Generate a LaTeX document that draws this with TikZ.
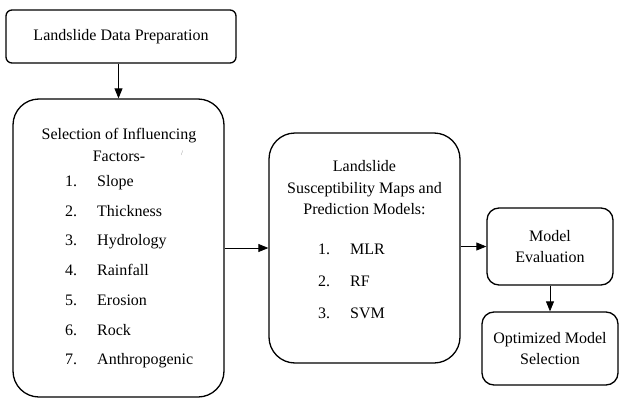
\documentclass[tikz,border=0pt]{standalone}
\usepackage{fontspec}
\setmainfont{Liberation Serif}
\usetikzlibrary{arrows.meta}

\begin{document}
\begin{tikzpicture}[x=1pt, y=-1pt, every node/.style={font=\fontsize{16}{21.5}\selectfont}, smallbox/.style={draw, line width=1.3pt, rounded corners=6pt, align=center}, bigbox/.style={draw, line width=1.3pt, rounded corners=26pt}, txt/.style={inner sep=0pt, align=center}, flow/.style={-{Triangle[length=10pt, width=8pt]}, line width=0.8pt}]
\useasboundingbox (0,0) rectangle (619,399);
\node[smallbox, minimum width=230pt, minimum height=53pt] (prep) at (121,36.5) {Landslide Data Preparation};
\node[bigbox, minimum width=211pt, minimum height=298pt] (factors) at (118.5,248) {};
\node[txt] (factorstitle) at (119,145) {Selection of Influencing\\Factors-};
\node[txt, font=\fontsize{7}{8}\selectfont, text=gray] (mark) at (182,153) {/};
\foreach \f [count=\i] in {Slope, Thickness, Hydrology, Rainfall, Erosion, Rock, Anthropogenic} {
  \node[txt, anchor=base west] (facnum\i) at (65,{186.5+29.7*(\i-1)}) {\i.};
  \node[txt, anchor=base west] (fac\i) at (97,{186.5+29.7*(\i-1)}) {\f};
}
\node[bigbox, minimum width=191pt, minimum height=230pt] (models) at (364.5,248) {};
\node[txt] (modelstitle) at (364.5,188) {Landslide\\Susceptibility Maps and\\Prediction Models:};
\foreach \m [count=\i] in {MLR, RF, SVM} {
  \node[txt, anchor=base west] (modnum\i) at (318,{254.5+32*(\i-1)}) {\i.};
  \node[txt, anchor=base west] (mod\i) at (350,{254.5+32*(\i-1)}) {\m};
}
\node[smallbox, rounded corners=12pt, minimum width=126pt, minimum height=77pt] (eval) at (550,246.5) {Model\\Evaluation};
\node[smallbox, rounded corners=12pt, minimum width=136pt, minimum height=73pt, font=\fontsize{16}{20.5}\selectfont] (select) at (550,348.5) {Optimized Model\\Selection};
\draw[flow] (factors.north |- prep.south) -- (factors.north);
\draw[flow] (factors) -- (models);
\draw[flow] (models.east |- eval.west) -- (eval.west);
\draw[flow] (eval) -- (select);
\end{tikzpicture}
\end{document}
